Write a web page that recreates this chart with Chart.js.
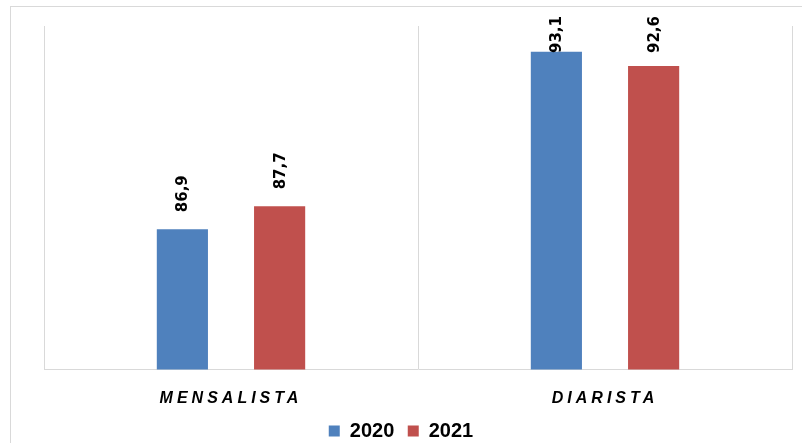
<!DOCTYPE html>
<html>
<head>
<meta charset="utf-8">
<script src="https://cdn.jsdelivr.net/npm/chart.js@4"></script>
<style>
  html, body { margin: 0; padding: 0; background: #ffffff; }
  #wrap { position: relative; width: 802px; height: 443px; }
</style>
</head>
<body>
<div id="wrap"><canvas id="chart" width="802" height="443"></canvas></div>
<script>
// Categories and series values
const categories = ['MENSALISTA', 'DIARISTA'];
const seriesNames = ['2020', '2021'];
const values2020 = [86.9, 93.1];
const values2021 = [87.7, 92.6];
const seriesColors = ['#4F81BD', '#C0504D'];

const fmt = new Intl.NumberFormat('pt-BR', { minimumFractionDigits: 1, maximumFractionDigits: 1 });

// Light frame around the whole chart
const framePlugin = {
  id: 'frame',
  beforeDraw(chart) {
    const ctx = chart.ctx;
    ctx.save();
    ctx.strokeStyle = '#d9d9d9';
    ctx.lineWidth = 1;
    ctx.strokeRect(10.5, 6.5, 1000, 1000);
    ctx.restore();
  }
};

// Rotated value labels above each bar, kept inside the chart
const valueLabels = {
  id: 'valueLabels',
  afterDatasetsDraw(chart) {
    const ctx = chart.ctx;
    ctx.save();
    ctx.font = 'bold 15px "DejaVu Sans"';
    ctx.fillStyle = '#000000';
    ctx.textAlign = 'left';
    ctx.textBaseline = 'middle';
    chart.data.datasets.forEach((ds, di) => {
      const meta = chart.getDatasetMeta(di);
      meta.data.forEach((bar, i) => {
        const text = fmt.format(ds.data[i]);
        const w = ctx.measureText(text).width;
        let start = bar.y - 17;
        if (start - w < 16) start = 16 + w;
        ctx.save();
        ctx.translate(bar.x, start);
        ctx.rotate(-Math.PI / 2);
        ctx.fillText(text, 0, 1);
        ctx.restore();
      });
    });
    ctx.restore();
    // spaced lettering for the category axis labels drawn next
    ctx.letterSpacing = '4px';
  },
  afterDraw(chart) {
    chart.ctx.letterSpacing = '0px';
  }
};

new Chart(document.getElementById('chart'), {
  type: 'bar',
  data: {
    labels: categories,
    datasets: [
      { label: seriesNames[0], data: values2020, backgroundColor: seriesColors[0], borderWidth: 0 },
      { label: seriesNames[1], data: values2021, backgroundColor: seriesColors[1], borderWidth: 0 }
    ]
  },
  options: {
    responsive: false,
    animation: false,
    devicePixelRatio: 1,
    categoryPercentage: 0.52,
    barPercentage: 0.526,
    layout: { padding: { left: 10, right: 10, top: 26, bottom: -8 } },
    plugins: {
      tooltip: { enabled: false },
      legend: {
        position: 'bottom',
        labels: {
          color: '#000000',
          boxWidth: 11,
          boxHeight: 11,
          padding: 13.5,
          font: { family: '"Liberation Sans", Arial, sans-serif', size: 20, weight: 'bold' }
        }
      }
    },
    scales: {
      x: {
        grid: { display: true, offset: true, color: '#d9d9d9', lineWidth: 1, drawTicks: false },
        border: { display: true, color: '#d9d9d9', width: 1 },
        ticks: {
          color: '#000000',
          padding: 19,
          z: 1,
          font: { family: '"Liberation Sans", Arial, sans-serif', size: 16, weight: 'bold', style: 'italic' }
        },
        afterFit(scale) { scale.height = 38; }
      },
      y: {
        display: true,
        min: 82,
        max: 94,
        grid: { display: false },
        border: { display: false },
        ticks: { display: false },
        afterFit(scale) { scale.width = 34; }
      }
    }
  },
  plugins: [framePlugin, valueLabels]
});
</script>
</body>
</html>
